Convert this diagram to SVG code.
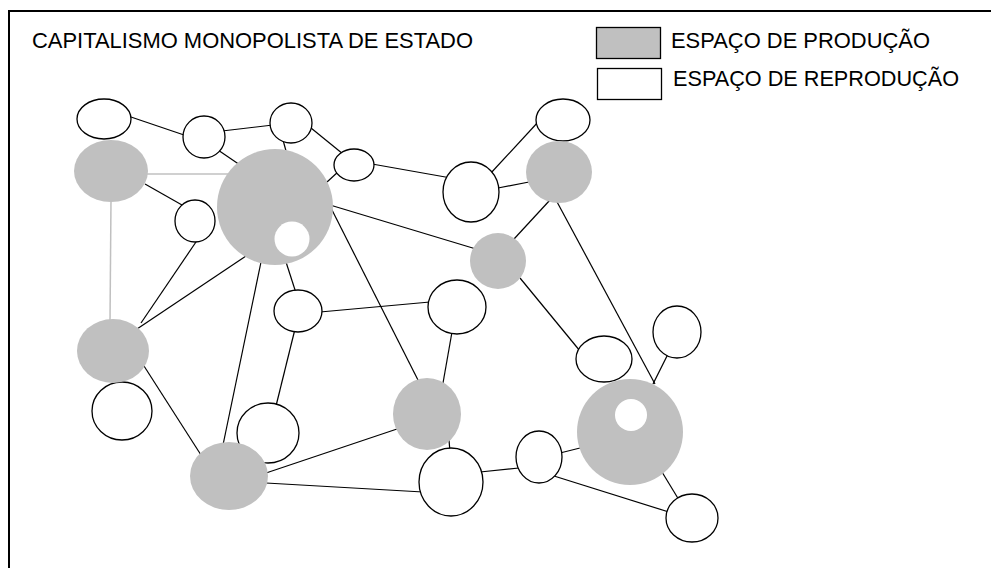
<svg xmlns="http://www.w3.org/2000/svg" width="991" height="568" viewBox="0 0 991 568">
<style>
.r{fill:#fff;stroke:#000;stroke-width:1.3}
.p{fill:#c0c0c0;stroke:none}
.h{fill:#fff;stroke:none}
.e{stroke:#000;stroke-width:1.2;fill:none}
.g{stroke:#c0c0c0;stroke-width:1.5;fill:none}
.t{font-family:"Liberation Sans",Arial,sans-serif;font-size:21.6px;fill:#000}
</style>
<rect width="991" height="568" fill="#fff"/>
<g id="frame"><path d="M9 568V11H991" fill="none" stroke="#000" stroke-width="2"/></g>
<g id="title"><text class="t" x="32" y="48" textLength="441" lengthAdjust="spacingAndGlyphs">CAPITALISMO MONOPOLISTA DE ESTADO</text></g>
<g id="legend">
<rect x="596.5" y="27.5" width="64" height="31" fill="#c0c0c0" stroke="#000" stroke-width="1.3"/>
<text class="t" x="671" y="48" textLength="259" lengthAdjust="spacingAndGlyphs">ESPAÇO DE PRODUÇÃO</text>
<rect x="597.5" y="68.5" width="64" height="31" fill="#fff" stroke="#000" stroke-width="1.3"/>
<text class="t" x="673" y="86" textLength="286" lengthAdjust="spacingAndGlyphs">ESPAÇO DE REPRODUÇÃO</text>
</g>
<g id="connectors">
<line class="e" x1="128" y1="116" x2="187" y2="136"/>
<line class="e" x1="222" y1="131" x2="273" y2="125"/>
<line class="e" x1="311" y1="128" x2="343" y2="154"/>
<line class="e" x1="372" y1="164" x2="451" y2="178"/>
<line class="e" x1="218" y1="150" x2="240" y2="165"/>
<line class="e" x1="283" y1="140" x2="286" y2="151"/>
<line class="e" x1="339" y1="171" x2="327" y2="182"/>
<line class="g" x1="146" y1="174" x2="230" y2="174"/>
<line class="g" x1="111" y1="200" x2="110" y2="322"/>
<line class="e" x1="145" y1="184" x2="182" y2="205"/>
<line class="e" x1="330" y1="205" x2="476" y2="249"/>
<line class="e" x1="331" y1="208" x2="419" y2="382"/>
<line class="e" x1="286" y1="262" x2="296" y2="293"/>
<line class="e" x1="261" y1="262" x2="223" y2="445"/>
<line class="e" x1="246" y1="256" x2="137" y2="329"/>
<line class="e" x1="198" y1="239" x2="141" y2="323"/>
<line class="e" x1="144" y1="366" x2="201" y2="455"/>
<line class="e" x1="320" y1="312" x2="430" y2="302"/>
<line class="e" x1="295" y1="329" x2="276" y2="406"/>
<line class="e" x1="452" y1="332" x2="443" y2="383"/>
<line class="e" x1="266" y1="473" x2="397" y2="429"/>
<line class="e" x1="266" y1="483" x2="423" y2="492"/>
<line class="e" x1="449" y1="440" x2="450" y2="452"/>
<line class="e" x1="480" y1="472" x2="519" y2="468"/>
<line class="e" x1="560" y1="453" x2="580" y2="448"/>
<line class="e" x1="554" y1="476" x2="672" y2="513"/>
<line class="e" x1="662" y1="472" x2="679" y2="500"/>
<line class="e" x1="669" y1="352" x2="653" y2="384"/>
<line class="e" x1="556" y1="200" x2="655" y2="384"/>
<line class="e" x1="520" y1="278" x2="580" y2="351"/>
<line class="e" x1="514" y1="239" x2="550" y2="200"/>
<line class="e" x1="498" y1="188" x2="529" y2="182"/>
<line class="e" x1="490" y1="174" x2="539" y2="121"/>
</g>
<g id="r1"><ellipse class="r" cx="104" cy="119" rx="27" ry="20"/></g>
<g id="r2"><ellipse class="r" cx="204" cy="137" rx="21" ry="21"/></g>
<g id="r3"><ellipse class="r" cx="291" cy="123" rx="21" ry="20"/></g>
<g id="r4"><ellipse class="r" cx="354" cy="165" rx="20" ry="16"/></g>
<g id="r5"><ellipse class="r" cx="195" cy="221" rx="20" ry="21"/></g>
<g id="r6"><ellipse class="r" cx="471" cy="192" rx="28" ry="30"/></g>
<g id="r7"><ellipse class="r" cx="563" cy="120" rx="27" ry="21"/></g>
<g id="r8"><ellipse class="r" cx="298" cy="311" rx="24" ry="21"/></g>
<g id="r9"><ellipse class="r" cx="457" cy="307" rx="29" ry="27"/></g>
<g id="r10"><ellipse class="r" cx="122" cy="411" rx="30" ry="29"/></g>
<g id="r11"><ellipse class="r" cx="268" cy="433" rx="31" ry="30"/></g>
<g id="r12"><ellipse class="r" cx="451" cy="482" rx="32" ry="34"/></g>
<g id="r13"><ellipse class="r" cx="604" cy="359" rx="28" ry="23"/></g>
<g id="r14"><ellipse class="r" cx="677" cy="332" rx="24" ry="26"/></g>
<g id="r15"><ellipse class="r" cx="539" cy="457" rx="23" ry="26"/></g>
<g id="r16"><ellipse class="r" cx="692" cy="518" rx="26" ry="24"/></g>
<g id="p1"><ellipse class="p" cx="111" cy="171" rx="37" ry="31"/></g>
<g id="p2"><circle class="p" cx="275" cy="207" r="58"/><circle class="h" cx="292" cy="239" r="17.5"/></g>
<g id="p3"><ellipse class="p" cx="559" cy="172" rx="33" ry="31"/></g>
<g id="p4"><ellipse class="p" cx="498" cy="261" rx="28" ry="28"/></g>
<g id="p5"><ellipse class="p" cx="113" cy="351" rx="36" ry="32"/></g>
<g id="p6"><ellipse class="p" cx="229" cy="476" rx="39" ry="34"/></g>
<g id="p7"><ellipse class="p" cx="427" cy="414" rx="34" ry="36"/></g>
<g id="p8"><circle class="p" cx="630" cy="432" r="53"/><circle class="h" cx="631" cy="415" r="16"/></g>
</svg>
